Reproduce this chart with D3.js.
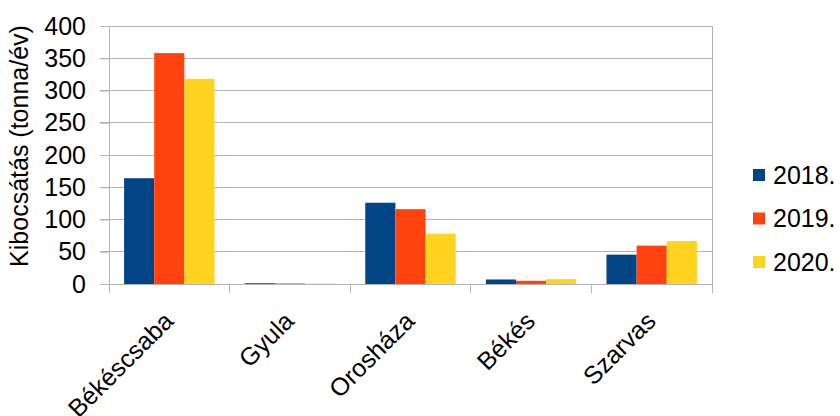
<!DOCTYPE html>
<html><head><meta charset="utf-8">
<script src="https://cdn.jsdelivr.net/npm/d3@7"></script>
<style>
html,body{margin:0;padding:0;background:#fff;}
text{font-family:"Liberation Sans",Arial,sans-serif;fill:#000;}
</style></head>
<body><svg id="c" width="840" height="416"></svg>
<script>
const categories = ["Békéscsaba","Gyula","Orosháza","Békés","Szarvas"];
const seriesNames = ["2018.","2019.","2020."];
const s2018 = [164, 1.2, 126, 7, 45.5];
const s2019 = [358, 0.8, 116, 5, 59.5];
const s2020 = [318, 0.6, 78, 7.5, 66.5];
const yTicks = [0,50,100,150,200,250,300,350,400];
const colors = ["#004586","#ff420e","#ffd320"];
const yLabel = "Kibocsátás (tonna/év)";

const series = [s2018, s2019, s2020];
const svg = d3.select("#c");
const L = 109, R = 712, T = 26, B = 284;
const x = d3.scaleBand().domain(categories).range([L, R]).padding(0);
const xi = d3.scaleBand().domain(d3.range(3)).range([0, x.bandwidth()]).paddingInner(0).paddingOuter(0.5);
const y = d3.scaleLinear().domain([0, 400]).range([B, T]);
const gridColor = "#b3b3b3";

// gridlines
svg.append("g").selectAll("line").data(yTicks).join("line")
  .attr("x1", L - 9).attr("x2", R).attr("y1", d => y(d)).attr("y2", d => y(d))
  .attr("stroke", gridColor).attr("stroke-width", 1).attr("shape-rendering","crispEdges");

// bars
const g = svg.append("g");
categories.forEach((c, ci) => {
  series.forEach((s, si) => {
    g.append("rect")
      .attr("x", x(c) + xi(si)).attr("width", xi.bandwidth())
      .attr("y", y(s[ci])).attr("height", B - y(s[ci]))
      .attr("fill", colors[si]);
  });
});

// axes
const yAxis = svg.append("g").attr("transform", `translate(${L},0)`)
  .call(d3.axisLeft(y).tickValues(yTicks).tickSize(9).tickPadding(14));
yAxis.select(".domain").remove();
yAxis.selectAll("line").attr("stroke", gridColor);
yAxis.selectAll("text").style("font-size", "25px").attr("font-family","Liberation Sans, Arial, sans-serif");

svg.append("line").attr("x1", L).attr("x2", L).attr("y1", T).attr("y2", B + 9)
  .attr("stroke", gridColor).attr("shape-rendering","crispEdges");
svg.append("line").attr("x1", R).attr("x2", R).attr("y1", T).attr("y2", B + 9)
  .attr("stroke", gridColor).attr("shape-rendering","crispEdges");
svg.append("line").attr("x1", L - 9).attr("x2", R).attr("y1", B).attr("y2", B)
  .attr("stroke", gridColor).attr("shape-rendering","crispEdges");

// category ticks
svg.append("g").selectAll("line").data(categories.slice(1)).join("line")
  .attr("x1", d => x(d)).attr("x2", d => x(d)).attr("y1", B).attr("y2", B + 9)
  .attr("stroke", gridColor).attr("shape-rendering","crispEdges");

// category labels
svg.append("g").selectAll("text").data(categories).join("text")
  .attr("transform", d => `translate(${x(d) + x.bandwidth()/2 - 7},310) rotate(-45)`)
  .attr("text-anchor", "end").attr("dy", "0.71em")
  .style("font-size", "25px").text(d => d);

// y label
svg.append("text")
  .attr("transform", "translate(28,146) rotate(-90)")
  .attr("text-anchor", "middle").style("font-size", "25px").text(yLabel);

// legend
const lg = svg.append("g");
seriesNames.forEach((n, i) => {
  const cy = 175 + i * 43.5;
  lg.append("rect").attr("x", 753).attr("y", cy - 6).attr("width", 12).attr("height", 12).attr("fill", colors[i]);
  lg.append("text").attr("x", 773).attr("y", cy).attr("dy", "0.35em").style("font-size", "25px").text(n);
});
</script></body></html>
